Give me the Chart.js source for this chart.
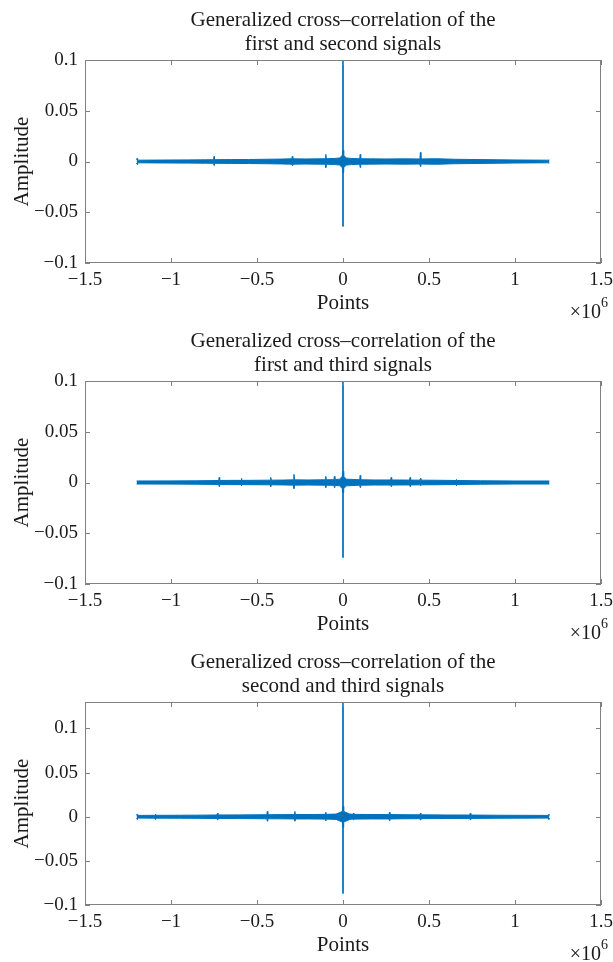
<!DOCTYPE html>
<html>
<head>
<meta charset="utf-8">
<script src="https://cdn.jsdelivr.net/npm/chart.js@4.4.1/dist/chart.umd.min.js"></script>
<style>
  body { margin: 0; background: #fff; }
  .plot { position: absolute; left: 0; width: 613px; height: 320px; }
</style>
</head>
<body>
<div class="plot" style="top:0px"><canvas id="c1" width="613" height="320"></canvas></div>
<div class="plot" style="top:321px"><canvas id="c2" width="613" height="320"></canvas></div>
<div class="plot" style="top:642px"><canvas id="c3" width="613" height="320"></canvas></div>
<script>
// tick positions
const xTicks = [-1.5e6, -1e6, -0.5e6, 0, 0.5e6, 1e6, 1.5e6]
const yTicks = [-0.1, -0.05, 0, 0.05, 0.1]

// first and second signals: envelope of the noise floor + main peak at lag 0
const gcc12X = [-1.2e6, -1.197e6, -1.194e6, -1.1e6, -1.0e6, -0.9e6, -0.8e6, -0.753e6, -0.75e6, -0.747e6, -0.65e6, -0.55e6, -0.45e6, -0.36e6, -0.31e6, -0.298e6, -0.295e6, -0.292e6, -0.28e6, -0.22e6, -0.15e6, -0.103e6, -0.1e6, -0.097e6, -0.05e6, -0.02e6, -0.004e6, 0, 0.004e6, 0.02e6, 0.05e6, 0.097e6, 0.1e6, 0.103e6, 0.16e6, 0.25e6, 0.35e6, 0.447e6, 0.45e6, 0.453e6, 0.5e6, 0.55e6, 0.65e6, 0.75e6, 0.9e6, 1.0e6, 1.1e6, 1.19e6, 1.2e6]
const gcc12Up = [0.0015, 0.003, 0.0013, 0.0014, 0.0015, 0.0016, 0.0017, 0.0018, 0.005, 0.0018, 0.0019, 0.002, 0.0022, 0.0024, 0.0026, 0.0028, 0.005, 0.0028, 0.0026, 0.0025, 0.0026, 0.0027, 0.007, 0.0027, 0.003, 0.0035, 0.006, 0.011, 0.006, 0.0035, 0.003, 0.0027, 0.007, 0.0027, 0.0026, 0.0025, 0.0026, 0.0025, 0.009, 0.0025, 0.0026, 0.0027, 0.0022, 0.002, 0.0017, 0.0015, 0.0014, 0.0013, 0.0015]
const gcc12Low = [-0.0015, -0.003, -0.0013, -0.0014, -0.0015, -0.0016, -0.0017, -0.0018, -0.004, -0.0018, -0.0019, -0.002, -0.0022, -0.0024, -0.0026, -0.0028, -0.004, -0.0028, -0.0026, -0.0025, -0.0026, -0.0027, -0.006, -0.0027, -0.003, -0.0035, -0.006, -0.011, -0.006, -0.0035, -0.003, -0.0027, -0.006, -0.0027, -0.0026, -0.0025, -0.0026, -0.0025, -0.005, -0.0025, -0.0026, -0.0027, -0.0022, -0.002, -0.0017, -0.0015, -0.0014, -0.0013, -0.0015]
const gcc12Peak = [0.1, -0.064]

// first and third signals
const gcc13X = [-1.2e6, -1.0e6, -0.85e6, -0.75e6, -0.723e6, -0.72e6, -0.717e6, -0.65e6, -0.593e6, -0.59e6, -0.587e6, -0.5e6, -0.423e6, -0.42e6, -0.417e6, -0.35e6, -0.288e6, -0.285e6, -0.282e6, -0.2e6, -0.103e6, -0.1e6, -0.097e6, -0.053e6, -0.05e6, -0.047e6, -0.02e6, -0.004e6, 0, 0.004e6, 0.02e6, 0.097e6, 0.1e6, 0.103e6, 0.18e6, 0.277e6, 0.28e6, 0.283e6, 0.387e6, 0.39e6, 0.393e6, 0.447e6, 0.45e6, 0.453e6, 0.55e6, 0.657e6, 0.66e6, 0.663e6, 0.8e6, 1.0e6, 1.2e6]
const gcc13Up = [0.0015, 0.0016, 0.0017, 0.0019, 0.002, 0.005, 0.002, 0.0021, 0.0021, 0.004, 0.0021, 0.0022, 0.0023, 0.005, 0.0023, 0.0024, 0.0026, 0.008, 0.0026, 0.0025, 0.0027, 0.006, 0.0027, 0.0028, 0.006, 0.0028, 0.0033, 0.006, 0.011, 0.006, 0.0033, 0.0027, 0.007, 0.0027, 0.0025, 0.0025, 0.005, 0.0025, 0.0024, 0.005, 0.0024, 0.0023, 0.004, 0.0023, 0.0022, 0.002, 0.003, 0.002, 0.0017, 0.0015, 0.0015]
const gcc13Low = [-0.0015, -0.0016, -0.0017, -0.0019, -0.002, -0.004, -0.002, -0.0021, -0.0021, -0.003, -0.0021, -0.0022, -0.0023, -0.004, -0.0023, -0.0024, -0.0026, -0.006, -0.0026, -0.0025, -0.0027, -0.005, -0.0027, -0.0028, -0.005, -0.0028, -0.0033, -0.006, -0.010, -0.006, -0.0033, -0.0027, -0.005, -0.0027, -0.0025, -0.0025, -0.004, -0.0025, -0.0024, -0.004, -0.0024, -0.0023, -0.003, -0.0023, -0.0022, -0.002, -0.003, -0.002, -0.0017, -0.0015, -0.0015]
const gcc13Peak = [0.1, -0.074]

// second and third signals
const gcc23X = [-1.2e6, -1.197e6, -1.194e6, -1.1e6, -1.093e6, -1.09e6, -1.087e6, -0.95e6, -0.85e6, -0.733e6, -0.73e6, -0.727e6, -0.6e6, -0.443e6, -0.44e6, -0.437e6, -0.35e6, -0.283e6, -0.28e6, -0.277e6, -0.2e6, -0.103e6, -0.1e6, -0.097e6, -0.04e6, -0.004e6, 0, 0.004e6, 0.04e6, 0.057e6, 0.06e6, 0.063e6, 0.17e6, 0.267e6, 0.27e6, 0.273e6, 0.36e6, 0.447e6, 0.45e6, 0.453e6, 0.6e6, 0.737e6, 0.74e6, 0.743e6, 0.9e6, 1.05e6, 1.194e6, 1.197e6, 1.2e6]
const gcc23Up = [0.0015, 0.003, 0.0015, 0.0016, 0.0016, 0.003, 0.0016, 0.0017, 0.0018, 0.002, 0.004, 0.002, 0.0021, 0.0023, 0.006, 0.0023, 0.0024, 0.0025, 0.006, 0.0025, 0.0025, 0.0027, 0.005, 0.0027, 0.003, 0.006, 0.012, 0.006, 0.003, 0.0027, 0.004, 0.0027, 0.0025, 0.0025, 0.005, 0.0025, 0.0023, 0.0022, 0.004, 0.0022, 0.002, 0.0019, 0.004, 0.0019, 0.0017, 0.0016, 0.0015, 0.003, 0.0015]
const gcc23Low = [-0.0015, -0.003, -0.0015, -0.0016, -0.0016, -0.003, -0.0016, -0.0017, -0.0018, -0.002, -0.0035, -0.002, -0.0021, -0.0023, -0.005, -0.0023, -0.0024, -0.0025, -0.005, -0.0025, -0.0025, -0.0027, -0.0045, -0.0027, -0.003, -0.006, -0.012, -0.006, -0.003, -0.0027, -0.0035, -0.0027, -0.0025, -0.0025, -0.0045, -0.0025, -0.0023, -0.0022, -0.0035, -0.0022, -0.002, -0.0019, -0.0035, -0.0019, -0.0017, -0.0016, -0.0015, -0.003, -0.0015]
const gcc23Peak = [0.13, -0.087]

const blue = '#0072BD'
const fontFam = "'Liberation Serif', 'Times New Roman', serif"
const textCol = '#1a1a1a'
const boxCol = '#808080'

function minus(v) {
    return String(v).replace('-', '\u2212')
}

// matlab style box with inward ticks, title centred over the axes, x10^6 exponent
const boxPlugin = {
    id: 'box',
    afterDraw(chart) {
        const ctx = chart.ctx
        const a = chart.chartArea
        const xs = chart.scales.x, ys = chart.scales.y
        ctx.save()
        ctx.strokeStyle = boxCol
        ctx.lineWidth = 1
        ctx.strokeRect(a.left + 0.5, a.top + 0.5, a.right - a.left - 1, a.bottom - a.top - 1)
        ctx.beginPath()
        xs.ticks.forEach(t => {
            const px = Math.round(xs.getPixelForValue(t.value)) + 0.5
            ctx.moveTo(px, a.bottom); ctx.lineTo(px, a.bottom - 5)
            ctx.moveTo(px, a.top); ctx.lineTo(px, a.top + 5)
        })
        ys.ticks.forEach(t => {
            const py = Math.round(ys.getPixelForValue(t.value)) + 0.5
            ctx.moveTo(a.left, py); ctx.lineTo(a.left + 5, py)
            ctx.moveTo(a.right, py); ctx.lineTo(a.right - 5, py)
        })
        ctx.stroke()

        ctx.fillStyle = textCol
        ctx.textAlign = 'center'
        ctx.textBaseline = 'middle'
        ctx.font = '21px ' + fontFam
        const lines = chart.options.plugins.box.title
        const cx = (a.left + a.right) / 2
        ctx.fillText(lines[0], cx, a.top - 40)
        ctx.fillText(lines[1], cx, a.top - 16)

        ctx.textBaseline = 'alphabetic'
        ctx.textAlign = 'right'
        ctx.font = '14px ' + fontFam
        ctx.fillText('6', a.right + 7, a.bottom + 44)
        const w6 = ctx.measureText('6').width
        ctx.font = '20px ' + fontFam
        ctx.fillText('\u00d710', a.right + 7 - w6, a.bottom + 55)
        ctx.restore()
    }
}

function make_chart(id, title, xs, up, low, peak, yMin, yMax) {
    const upPts = xs.map((x, i) => ({x: x, y: up[i]}))
    const lowPts = xs.map((x, i) => ({x: x, y: low[i]}))
    const peakPts = [{x: 0, y: peak[0]}, {x: 0, y: peak[1]}]
    new Chart(document.getElementById(id), {
        type: 'scatter',
        data: {
            datasets: [
                {data: upPts, showLine: true, borderColor: blue, borderWidth: 1, pointRadius: 0, fill: false},
                {data: lowPts, showLine: true, borderColor: blue, borderWidth: 1, pointRadius: 0, fill: '-1', backgroundColor: blue},
                {data: peakPts, showLine: true, borderColor: blue, borderWidth: 1, pointRadius: 0}
            ]
        },
        options: {
            responsive: false,
            animation: false,
            layout: {padding: {left: 0, right: 12, top: 60, bottom: 0}},
            plugins: {
                legend: {display: false},
                tooltip: {enabled: false},
                title: {display: false},
                box: {title: title}
            },
            scales: {
                x: {
                    type: 'linear',
                    min: -1.5e6, max: 1.5e6,
                    afterBuildTicks: s => { s.ticks = xTicks.map(v => ({value: v})) },
                    afterFit: s => { s.height = 57; s.paddingLeft = 0; s.paddingRight = 0 },
                    grid: {display: false, drawTicks: false},
                    border: {display: false},
                    ticks: {
                        color: textCol, padding: 6,
                        font: {family: fontFam, size: 19},
                        maxRotation: 0, autoSkip: false,
                        callback: v => minus(v / 1e6)
                    },
                    title: {
                        display: true, text: 'Points', color: textCol,
                        font: {family: fontFam, size: 21},
                        padding: {top: 0, bottom: 4}
                    }
                },
                y: {
                    type: 'linear',
                    min: yMin, max: yMax,
                    afterBuildTicks: s => { s.ticks = yTicks.map(v => ({value: v})) },
                    afterFit: s => { s.width = 85; s.paddingTop = 0; s.paddingBottom = 0 },
                    grid: {display: false, drawTicks: false},
                    border: {display: false},
                    ticks: {
                        color: textCol, padding: 7,
                        font: {family: fontFam, size: 19},
                        autoSkip: false,
                        callback: v => minus(v)
                    },
                    title: {
                        display: true, text: 'Amplitude', color: textCol,
                        font: {family: fontFam, size: 21},
                        padding: {top: 10, bottom: 0}
                    }
                }
            }
        },
        plugins: [boxPlugin]
    })
}

make_chart('c1', ['Generalized cross\u2013correlation of the', 'first and second signals'], gcc12X, gcc12Up, gcc12Low, gcc12Peak, -0.1, 0.1)
make_chart('c2', ['Generalized cross\u2013correlation of the', 'first and third signals'], gcc13X, gcc13Up, gcc13Low, gcc13Peak, -0.1, 0.1)
make_chart('c3', ['Generalized cross\u2013correlation of the', 'second and third signals'], gcc23X, gcc23Up, gcc23Low, gcc23Peak, -0.1, 0.13)
</script>
</body>
</html>
